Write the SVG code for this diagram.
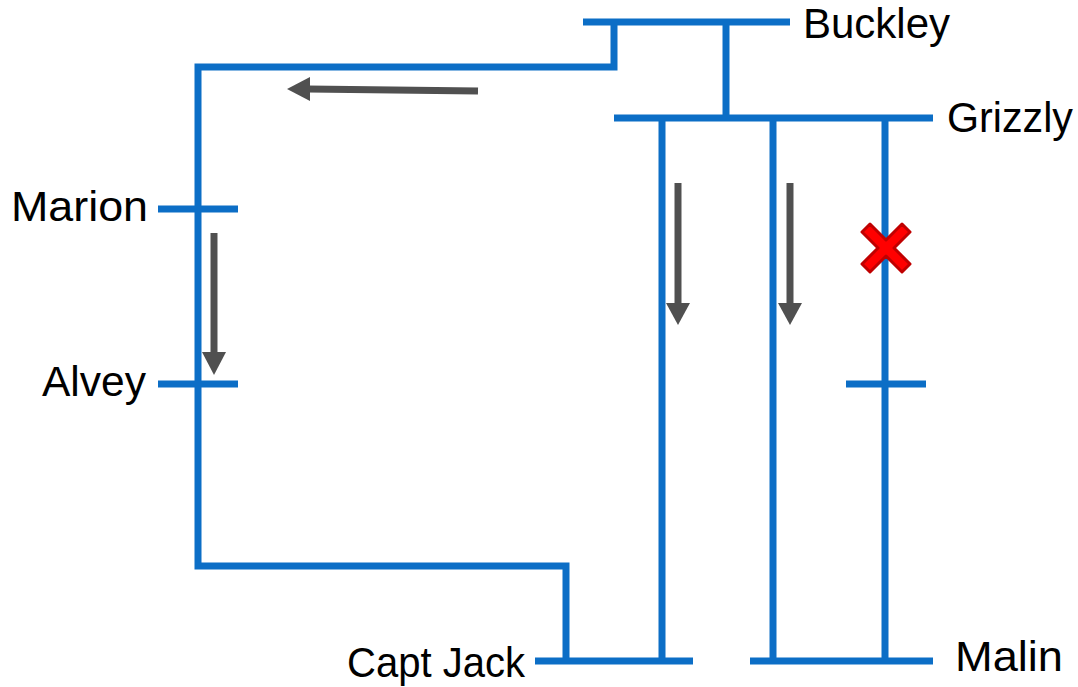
<svg xmlns="http://www.w3.org/2000/svg" width="1078" height="687" viewBox="0 0 1078 687">
<defs>
<style>
.ln{stroke:#0C6EC6;stroke-width:7;fill:none;stroke-linecap:butt}
.lbl{font-family:"Liberation Sans",Arial,sans-serif;font-size:42px;fill:#000}
.ar{stroke:#505050;stroke-width:7;fill:none}
.ah{fill:#505050}
</style>
</defs>
<rect width="1078" height="687" fill="#fff"/>
<g id="connectors">
<path class="ln" d="M583,22H790"/>
<path class="ln" d="M614,22V67H198V566H566V661"/>
<path class="ln" d="M726,22V118"/>
<path class="ln" d="M614,118H933"/>
<path class="ln" d="M662,118V661"/>
<path class="ln" d="M773,118V661"/>
<path class="ln" d="M885,118V661"/>
<path class="ln" d="M535,661H693"/>
<path class="ln" d="M750,661H933"/>
<path class="ln" d="M158,209H238"/>
<path class="ln" d="M158,384H238"/>
<path class="ln" d="M846,384H926"/>
</g>
<g id="flow-arrows">
<path class="ar" d="M478,91L308,89"/>
<polygon class="ah" points="287,89 310,77 310,101"/>
<path class="ar" d="M214,233V354"/>
<polygon class="ah" points="214,375 202,352 226,352"/>
<path class="ar" d="M678,183V305"/>
<polygon class="ah" points="678,325 666,303 690,303"/>
<path class="ar" d="M790,183V305"/>
<polygon class="ah" points="790,325 778,303 802,303"/>
</g>
<g id="fault">
<path d="M870,224L886,240L902,224L910,232L894,248L910,264L902,272L886,256L870,272L862,264L878,248L862,232Z" fill="#ff0000" stroke="#c00000" stroke-width="3" stroke-linejoin="round"/>
</g>
<g id="node-buckley"><text class="lbl" x="803" y="38" textLength="147" lengthAdjust="spacingAndGlyphs">Buckley</text></g>
<g id="node-grizzly"><text class="lbl" x="947" y="132" textLength="126" lengthAdjust="spacingAndGlyphs">Grizzly</text></g>
<g id="node-marion"><text class="lbl" x="11" y="221" textLength="137" lengthAdjust="spacingAndGlyphs">Marion</text></g>
<g id="node-alvey"><text class="lbl" x="42" y="396" textLength="104" lengthAdjust="spacingAndGlyphs">Alvey</text></g>
<g id="node-captjack"><text class="lbl" x="347" y="677" textLength="178" lengthAdjust="spacingAndGlyphs">Capt Jack</text></g>
<g id="node-malin"><text class="lbl" x="955" y="671" textLength="108" lengthAdjust="spacingAndGlyphs">Malin</text></g>
</svg>
